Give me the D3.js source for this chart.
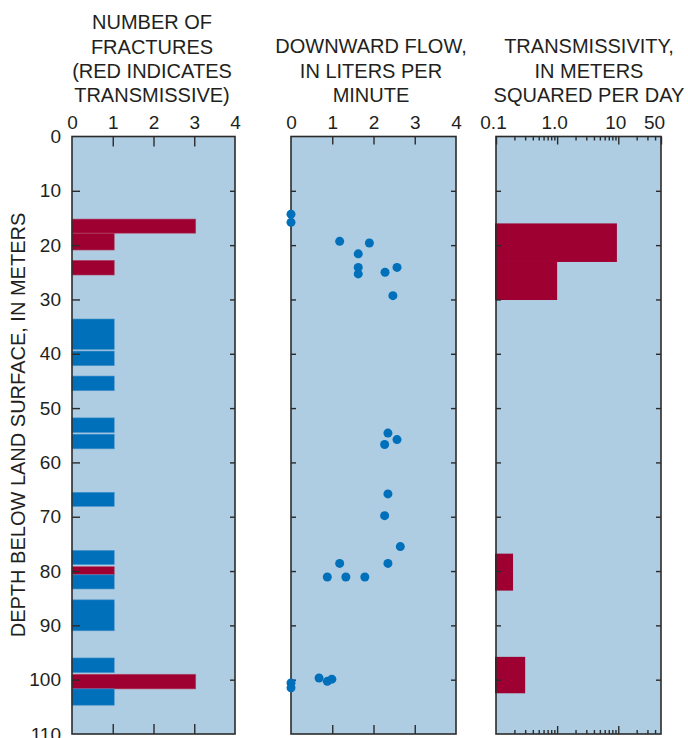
<!DOCTYPE html>
<html>
<head>
<meta charset="utf-8">
<script src="https://cdn.jsdelivr.net/npm/d3@7"></script>
<style>
  html, body { margin: 0; padding: 0; background: #ffffff; }
  svg { display: block; }
  text { font-family: "Liberation Sans", Arial, Helvetica, sans-serif; fill: #231f20; }
</style>
</head>
<body>
<svg id="chart" width="688" height="738"></svg>
<script>
// Fracture intervals (depth in meters), fracture count and whether transmissive
const fractureTop    = [15.2, 17.8, 22.8, 33.6, 39.5, 44.1, 51.8, 54.8, 65.5, 76.2, 79.2, 80.7, 85.3, 96.0, 99.0, 101.7];
const fractureBottom = [17.8, 20.9, 25.5, 39.2, 42.2, 46.8, 54.5, 57.5, 68.1, 78.8, 80.7, 83.3, 91.0, 98.7, 101.7, 104.7];
const fractureCount  = [3, 1, 1, 1, 1, 1, 1, 1, 1, 1, 1, 1, 1, 1, 3, 1];
const fractureTransmissive = [true, true, true, false, false, false, false, false, false, false, true, false, false, false, true, false];

// Downward flow measurements
const flowDepth = [14.3, 15.8, 19.3, 19.6, 21.6, 24.1, 25.3, 25.0, 24.1, 29.3,
                   54.6, 55.8, 56.7, 65.8, 69.8, 75.5, 78.6, 78.6, 81.1, 81.1, 81.1,
                   99.7, 100.3, 99.9, 100.6, 101.5];
const flowRate  = [0, 0, 1.18, 1.90, 1.63, 1.63, 1.63, 2.28, 2.57, 2.47,
                   2.35, 2.57, 2.27, 2.35, 2.27, 2.65, 1.18, 2.35, 0.88, 1.33, 1.79,
                   0.68, 0.88, 0.99, 0, 0];

// Transmissive zones
const transTop    = [16.0, 23.1, 76.8, 95.8];
const transBottom = [23.1, 30.1, 83.6, 102.5];
const transValue  = [9.5, 1.0, 0.19, 0.30];

// Axis ticks and labels
const depthTicks = [0, 10, 20, 30, 40, 50, 60, 70, 80, 90, 100, 110];
const countTicks = [0, 1, 2, 3, 4];
const flowTicks  = [0, 1, 2, 3, 4];
const transMajor = [0.1, 1, 10, 50];
const transLabels = ["0.1", "1.0", "10", "50"];
const transMinor = [0.2, 0.3, 0.4, 0.5, 0.6, 0.7, 0.8, 0.9, 2, 3, 4, 5, 6, 7, 8, 9, 20, 30, 40];

const titleFracture = ["NUMBER OF", "FRACTURES", "(RED INDICATES", "TRANSMISSIVE)"];
const titleFlow = ["DOWNWARD FLOW,", "IN LITERS PER", "MINUTE"];
const titleTrans = ["TRANSMISSIVITY,", "IN METERS", "SQUARED PER DAY"];
const depthTitle = "DEPTH BELOW LAND SURFACE, IN METERS";

const BG = "#aecce2", BLUE = "#0070ba", RED = "#9e0031", INK = "#2b2b2b";
const TICK_FONT = "19px", TITLE_FONT = "20px";

const svg = d3.select("#chart");

const y = d3.scaleLinear().domain([0, 110]).range([136.5, 734]);
const xCount = d3.scaleLinear().domain([0, 4]).range([72, 235]);
const xFlow  = d3.scaleLinear().domain([0, 4]).range([291, 456]);
const xTrans = d3.scaleLog().domain([0.1, 50]).range([496, 661]);

function panelBg(x) {
  const [x0, x1] = x.range();
  svg.append("rect")
    .attr("x", x0).attr("y", y(0))
    .attr("width", x1 - x0).attr("height", y(110) - y(0))
    .attr("fill", BG);
}
function panelFrame(x) {
  const [x0, x1] = x.range();
  svg.append("rect")
    .attr("x", x0).attr("y", y(0))
    .attr("width", x1 - x0).attr("height", y(110) - y(0))
    .attr("fill", "none").attr("stroke", INK).attr("stroke-width", 1.6);
}
function styleAxis(g) {
  g.select(".domain").remove();
  g.selectAll(".tick line").attr("stroke", INK).attr("stroke-width", 1.4);
  g.selectAll(".tick text").attr("fill", "#231f20")
    .style("font-family", "'Liberation Sans', Arial, sans-serif")
    .style("font-size", TICK_FONT);
}
function title(lines, cx, baselines) {
  const t = svg.append("text").attr("text-anchor", "middle").style("font-size", TITLE_FONT);
  lines.forEach((s, i) => t.append("tspan").attr("x", cx).attr("y", baselines[i]).text(s));
}

// ---- Panel 1: number of fractures ----
panelBg(xCount);
const fractures = fractureTop.map((t, i) => ({
  top: t, bottom: fractureBottom[i], count: fractureCount[i], trans: fractureTransmissive[i]
}));
svg.append("g").selectAll("rect").data(fractures).join("rect")
  .attr("x", xCount(0))
  .attr("y", d => y(d.top))
  .attr("width", d => xCount(d.count) - xCount(0) + 1.5)
  .attr("height", d => y(d.bottom) - y(d.top))
  .attr("fill", d => d.trans ? RED : BLUE)
  .attr("stroke", d => d.trans ? "#b34a6a" : "#4a95cc")
  .attr("stroke-width", 0.6);

svg.append("g").attr("transform", `translate(0,${y(0)})`)
  .call(d3.axisTop(xCount).tickValues(countTicks).tickSizeInner(-10).tickSizeOuter(0).tickPadding(8).tickFormat(d3.format("d")))
  .call(styleAxis)
  .call(g => g.selectAll(".tick line").filter(d => d === 0 || d === 4).remove());
svg.append("g").attr("transform", `translate(0,${y(110)})`)
  .call(d3.axisBottom(xCount).tickValues([1, 2, 3]).tickSizeInner(-10).tickSizeOuter(0).tickFormat(""))
  .call(styleAxis);
svg.append("g").attr("transform", `translate(${xCount(0)},0)`)
  .call(d3.axisLeft(y).tickValues(depthTicks).tickSizeInner(-8).tickSizeOuter(0).tickPadding(11).tickFormat(d3.format("d")))
  .call(styleAxis)
  .call(g => g.selectAll(".tick line").filter(d => d === 0 || d === 110).remove());
svg.append("g").attr("transform", `translate(${xCount(4)},0)`)
  .call(d3.axisRight(y).tickValues(depthTicks.slice(1, -1)).tickSizeInner(-5).tickSizeOuter(0).tickFormat(""))
  .call(styleAxis);
panelFrame(xCount);
title(titleFracture, 152, [29, 53.5, 78, 102]);

// ---- Panel 2: downward flow ----
panelBg(xFlow);
svg.append("g").attr("transform", `translate(0,${y(0)})`)
  .call(d3.axisTop(xFlow).tickValues(flowTicks).tickSizeInner(-8).tickSizeOuter(0).tickPadding(8).tickFormat(d3.format("d")))
  .call(styleAxis)
  .call(g => g.selectAll(".tick line").filter(d => d === 0 || d === 4).remove());
svg.append("g").attr("transform", `translate(0,${y(110)})`)
  .call(d3.axisBottom(xFlow).tickValues([1, 2, 3]).tickSizeInner(-9).tickSizeOuter(0).tickFormat(""))
  .call(styleAxis);
svg.append("g").attr("transform", `translate(${xFlow(0)},0)`)
  .call(d3.axisLeft(y).tickValues(depthTicks.slice(1, -1)).tickSizeInner(-5).tickSizeOuter(0).tickFormat(""))
  .call(styleAxis);
svg.append("g").attr("transform", `translate(${xFlow(4)},0)`)
  .call(d3.axisRight(y).tickValues(depthTicks.slice(1, -1)).tickSizeInner(-5).tickSizeOuter(0).tickFormat(""))
  .call(styleAxis);
panelFrame(xFlow);
const flows = flowDepth.map((d, i) => ({ depth: d, rate: flowRate[i] }));
svg.append("g").selectAll("circle").data(flows).join("circle")
  .attr("cx", d => xFlow(d.rate))
  .attr("cy", d => y(d.depth))
  .attr("r", 4.5)
  .attr("fill", BLUE);
title(titleFlow, 371, [53, 78, 102]);

// ---- Panel 3: transmissivity ----
panelBg(xTrans);
const zones = transTop.map((t, i) => ({ top: t, bottom: transBottom[i], value: transValue[i] }));
svg.append("g").selectAll("rect").data(zones).join("rect")
  .attr("x", xTrans(0.1) - 1)
  .attr("y", d => y(d.top))
  .attr("width", d => xTrans(d.value) - xTrans(0.1) + 1)
  .attr("height", d => y(d.bottom) - y(d.top))
  .attr("fill", RED);

svg.append("g").attr("transform", `translate(0,${y(0)})`)
  .call(d3.axisTop(xTrans).tickValues(transMinor).tickSizeInner(-4).tickSizeOuter(0).tickFormat(""))
  .call(styleAxis);
svg.append("g").attr("transform", `translate(0,${y(0)})`)
  .call(d3.axisTop(xTrans).tickValues(transMajor).tickSizeInner(-8).tickSizeOuter(0).tickPadding(8)
    .tickFormat((d, i) => transLabels[i]))
  .call(styleAxis)
  .call(g => g.selectAll(".tick text").attr("dx", d => d === 50 ? -7 : -3));
svg.append("g").attr("transform", `translate(0,${y(110)})`)
  .call(d3.axisBottom(xTrans).tickValues(transMinor).tickSizeInner(-4).tickSizeOuter(0).tickFormat(""))
  .call(styleAxis);
svg.append("g").attr("transform", `translate(0,${y(110)})`)
  .call(d3.axisBottom(xTrans).tickValues([1, 10]).tickSizeInner(-8).tickSizeOuter(0).tickFormat(""))
  .call(styleAxis);
svg.append("g").attr("transform", `translate(${xTrans(0.1)},0)`)
  .call(d3.axisLeft(y).tickValues(depthTicks.slice(1, -1)).tickSizeInner(-5).tickSizeOuter(0).tickFormat(""))
  .call(styleAxis);
svg.append("g").attr("transform", `translate(${xTrans(50)},0)`)
  .call(d3.axisRight(y).tickValues(depthTicks.slice(1, -1)).tickSizeInner(-5).tickSizeOuter(0).tickFormat(""))
  .call(styleAxis);
panelFrame(xTrans);
title(titleTrans, 589, [53, 78, 102]);

// ---- Shared depth axis title ----
svg.append("text")
  .attr("transform", `translate(25,${425}) rotate(-90)`)
  .attr("text-anchor", "middle")
  .style("font-size", TITLE_FONT)
  .text(depthTitle);
</script>
</body>
</html>
